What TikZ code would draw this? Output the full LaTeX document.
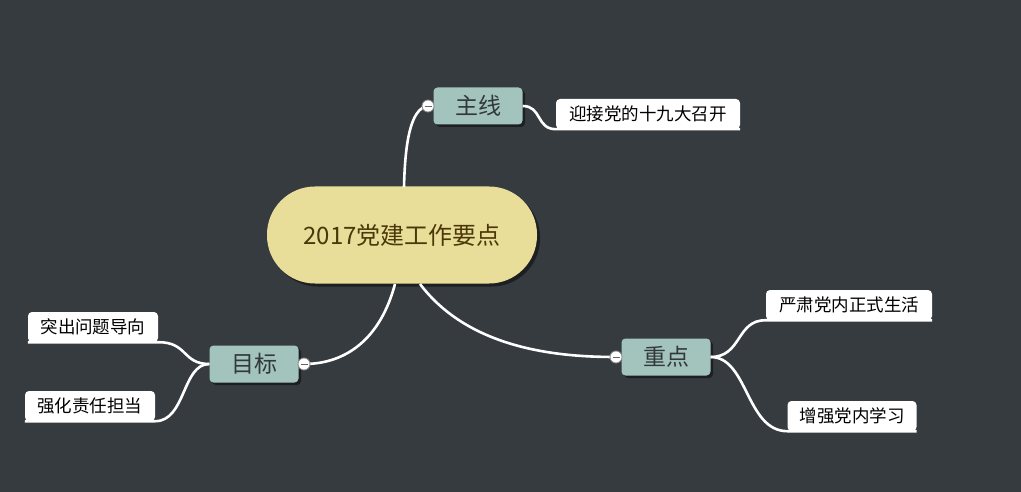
\documentclass[tikz,border=0pt]{standalone}
\usepackage{fontspec}
\setmainfont{Noto Sans CJK SC}
\usepackage{tikz}
\usetikzlibrary{shadows}
\definecolor{bgdark}{HTML}{363B3F}
\definecolor{centralfill}{HTML}{E8DE9A}
\definecolor{centraltext}{HTML}{4A3808}
\definecolor{topicfill}{HTML}{A3C4BD}
\definecolor{topictext}{HTML}{33383A}
\tikzset{
    central/.style={rounded corners=48pt, fill=centralfill, text=centraltext,
        minimum width=270pt, minimum height=97pt, inner sep=0pt,
        font=\fontsize{24}{28}\selectfont,
        drop shadow={shadow xshift=3pt, shadow yshift=-3pt, fill=black, opacity=0.45}},
    topic/.style={rounded corners=4pt, fill=topicfill, text=topictext,
        minimum width=89pt, minimum height=37pt, inner sep=0pt,
        font=\fontsize{23}{27}\selectfont,
        drop shadow={shadow xshift=2.5pt, shadow yshift=-2.5pt, fill=black, opacity=0.45}},
    leaf/.style={rounded corners=4pt, fill=white, text=black,
        minimum height=30pt, inner sep=0pt, font=\fontsize{17.5}{21}\selectfont},
    link/.style={draw=white, line width=2.6pt},
    fold/.style={circle, draw=black!45, fill=white, line width=0.8pt,
        minimum size=12pt, inner sep=0pt,
        path picture={\draw[black!60, line width=0.9pt]
            ([xshift=-3.5pt]path picture bounding box.center) --
            ([xshift=3.5pt]path picture bounding box.center);}},
}
\begin{document}
\begin{tikzpicture}[x=1pt, y=-1pt]
    \fill[bgdark] (0,0) rectangle (1021,492);
    \useasboundingbox (0,0) rectangle (1021,492);

    % Nodes
    \node[central] (root) at (402,235) {2017党建工作要点};
    \node[topic] (zhuxian) at (478,106) {主线};
    \node[topic] (mubiao) at (254,364) {目标};
    \node[topic] (zhongdian) at (666,357) {重点};

    \node[leaf, minimum width=184pt] (yingjie) at (648,114) {迎接党的十九大召开};
    \node[leaf, minimum width=130pt] (tuchu) at (93,327) {突出问题导向};
    \node[leaf, minimum width=130pt] (qianghua) at (90,406) {强化责任担当};
    \node[leaf, minimum width=166pt] (yansu) at (849,305) {严肃党内正式生活};
    \node[leaf, minimum width=129pt] (zengqiang) at (852,416) {增强党内学习};

    % Fold markers
    \coordinate (rtop) at (404,187);
    \coordinate (rleft) at (395,284);
    \coordinate (rright) at (420,284);

    % Root to topics
    \draw[link] (rtop) .. controls (405,145) and (410,108) .. (428,106);
    \draw[link] (rleft) .. controls (380,340) and (345,364) .. (304,364);
    \draw[link] (rright) .. controls (470,350) and (560,357) .. (616,357);

    % Topics to leaves
    \draw[link] (zhuxian.east) .. controls (542,106) and (536,129) .. (yingjie.south west) -- (yingjie.south east);
    \draw[link] (mubiao.west) .. controls (182,364) and (188,342) .. (tuchu.south east) -- (tuchu.south west);
    \draw[link] (mubiao.west) .. controls (182,364) and (186,421) .. (qianghua.south east) -- (qianghua.south west);
    \draw[link] (zhongdian.east) .. controls (742,357) and (736,320) .. (yansu.south west) -- (yansu.south east);
    \draw[link] (zhongdian.east) .. controls (748,357) and (746,431) .. (zengqiang.south west) -- (zengqiang.south east);

    \node[fold] (fzhuxian) at (428,106) {};
    \node[fold] (fmubiao) at (304,364) {};
    \node[fold] (fzhongdian) at (616,357) {};
\end{tikzpicture}
\end{document}
